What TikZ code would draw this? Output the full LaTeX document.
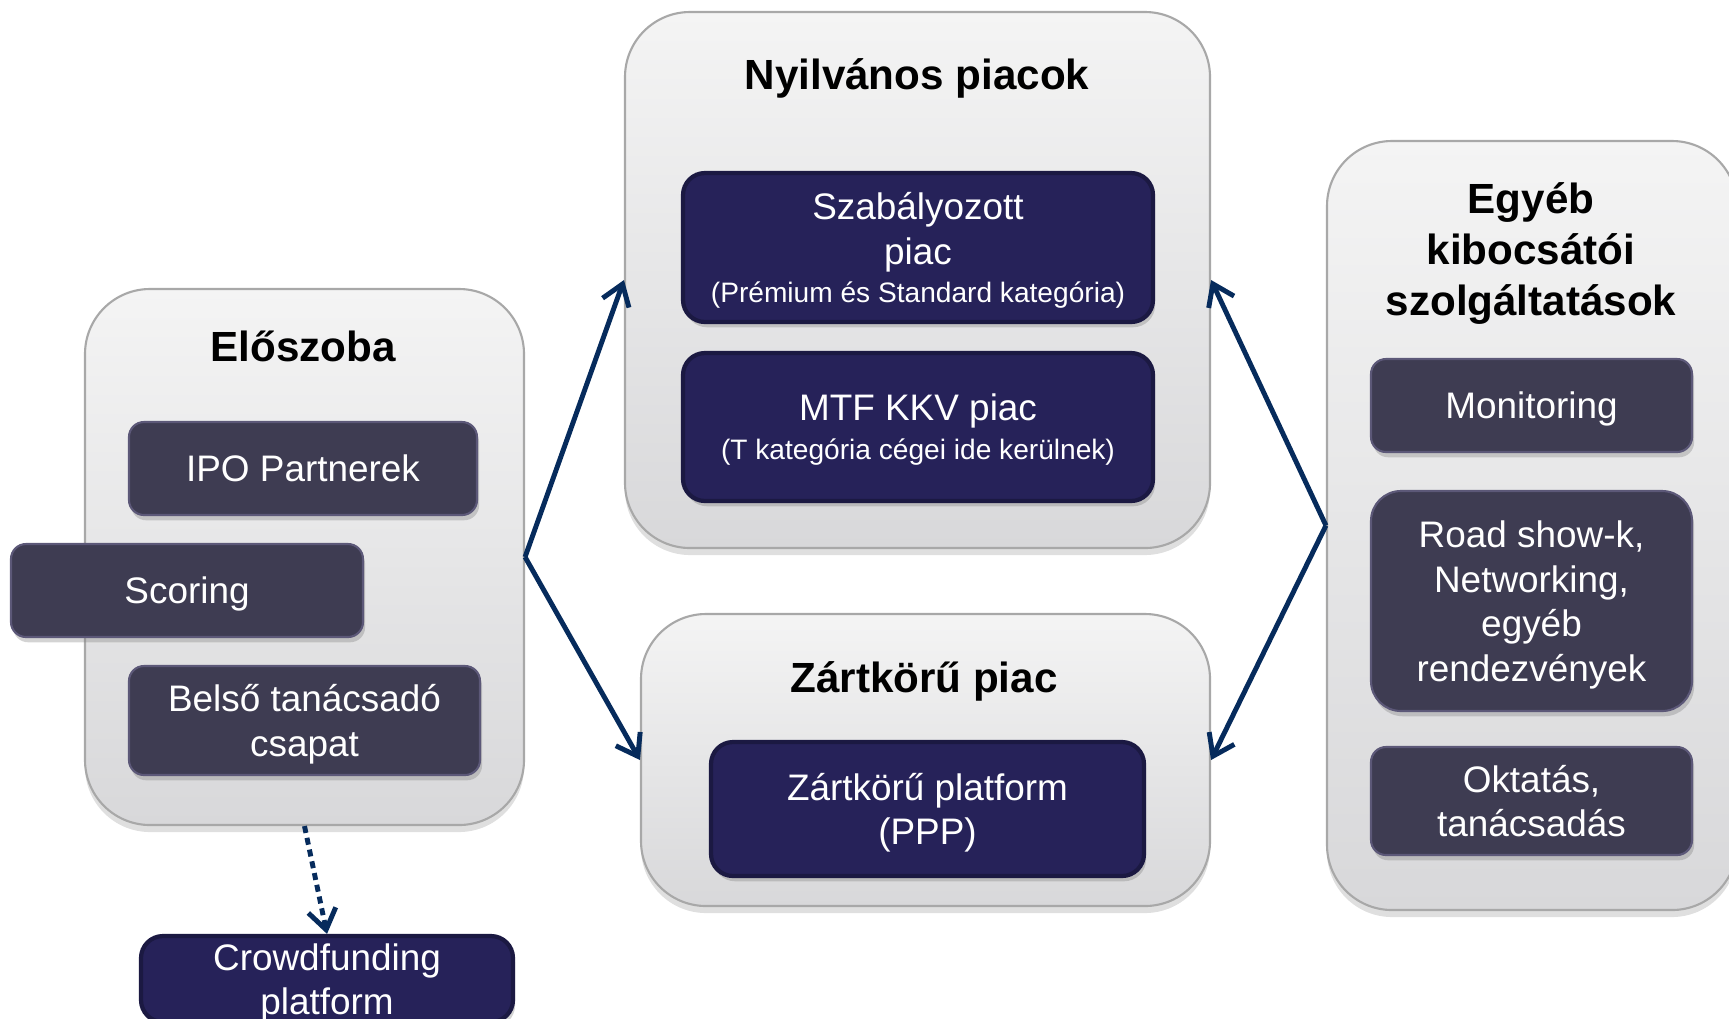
\documentclass[tikz,border=0pt]{standalone}
\usepackage{fontspec}
\setmainfont{Liberation Sans}
\usepackage{xcolor}
\usepackage{tikz}
\usetikzlibrary{arrows.meta,shadows}

\definecolor{panelTop}{HTML}{F4F4F4}
\definecolor{panelBot}{HTML}{D8D8DA}
\definecolor{panelLine}{HTML}{A8A8A8}
\definecolor{taskFill}{HTML}{3E3C52}
\definecolor{taskLine}{HTML}{5C5878}
\definecolor{mktFill}{HTML}{262259}
\definecolor{mktLine}{HTML}{1B1942}
\definecolor{linkBlue}{HTML}{062B5C}

\begin{document}
\begin{tikzpicture}[>={Straight Barb[length=2mm,width=2.8mm]},
	panel/.style={draw=panelLine,line width=0.6pt,rounded corners=0.65cm,top color=panelTop,bottom color=panelBot,
		drop shadow={shadow xshift=0pt,shadow yshift=-2pt,opacity=0.25},inner sep=0pt},
	head/.style={font=\fontsize{12}{14.4}\selectfont\bfseries,align=center,text depth=0pt},
	task/.style={draw=taskLine,line width=0.6pt,fill=taskFill,text=white,rounded corners=0.15cm,align=center,inner sep=0pt,
		text depth=0pt,font=\fontsize{10.5}{12.7}\selectfont,drop shadow={shadow xshift=0.6pt,shadow yshift=-1.5pt,opacity=0.35}},
	market/.style={task,draw=mktLine,fill=mktFill,line width=1.2pt,rounded corners=0.22cm},
	link/.style={->,draw=linkBlue,line width=1.4pt}]
	\useasboundingbox (0,0) rectangle (17.29,-10.18);
	\clip (0,0) rectangle (17.29,-10.18);

	\node[panel,minimum width=4.39cm,minimum height=5.36cm] (hall) at (3.045,-5.57) {};
	\node[panel,minimum width=5.85cm,minimum height=5.36cm] (pubmkt) at (9.175,-2.80) {};
	\node[panel,minimum width=5.69cm,minimum height=2.92cm] (privmkt) at (9.255,-7.60) {};
	\node[panel,minimum width=4.10cm,minimum height=7.69cm] (other) at (15.32,-5.255) {};

	\node[head] (hallhead) at (3.03,-3.46) {Előszoba};
	\node[head] (pubhead) at (9.17,-0.74) {Nyilvános piacok};
	\node[head] (privhead) at (9.24,-6.77) {Zártkörű piac};
	\node[head] (otherhead) at (15.31,-2.49) {Egyéb\\kibocsátói\\szolgáltatások};

	\node[task,minimum width=3.48cm,minimum height=0.93cm] (ipo) at (3.03,-4.685) {IPO Partnerek};
	\node[task,minimum width=3.52cm,minimum height=0.93cm] (scoring) at (1.87,-5.905) {Scoring};
	\node[task,minimum width=3.51cm,minimum height=1.09cm] (advisors) at (3.045,-7.205) {Belső tanácsadó\\csapat};
	\node[market,minimum width=3.72cm,minimum height=0.86cm] (crowd) at (3.27,-9.79) {Crowdfunding\\platform};

	\node[market,minimum width=4.70cm,minimum height=1.49cm,text depth=-2pt] (regmkt) at (9.18,-2.475)
		{Szabályozott\\piac\\[-1.7pt]{\fontsize{8}{9.6}\selectfont (Prémium és Standard kategória)}};
	\node[market,minimum width=4.70cm,minimum height=1.48cm,text depth=-2pt] (mtf) at (9.18,-4.27)
		{MTF KKV piac\\[-1.6pt]{\fontsize{8}{9.6}\selectfont (T kategória cégei ide kerülnek)}};
	\node[market,minimum width=4.33cm,minimum height=1.34cm] (ppp) at (9.275,-8.09) {Zártkörű platform\\(PPP)};

	\node[task,minimum width=3.21cm,minimum height=0.93cm] (monitor) at (15.315,-4.055) {Monitoring};
	\node[task,minimum width=3.21cm,minimum height=2.20cm,rounded corners=0.3cm] (roadshow) at (15.315,-6.01)
		{Road show-k,\\Networking,\\egyéb\\rendezvények};
	\node[task,minimum width=3.21cm,minimum height=1.08cm] (edu) at (15.315,-8.01) {Oktatás,\\tanácsadás};

	\path (hall.east) edge[link] (pubmkt.west) edge[link] (privmkt.west);
	\path (other.west) edge[link] (pubmkt.east) edge[link] (privmkt.east);
	\draw[link,line width=1.4pt,dash pattern=on 0.07cm off 0.05cm] (hall.south) -- (crowd.north);
\end{tikzpicture}
\end{document}
